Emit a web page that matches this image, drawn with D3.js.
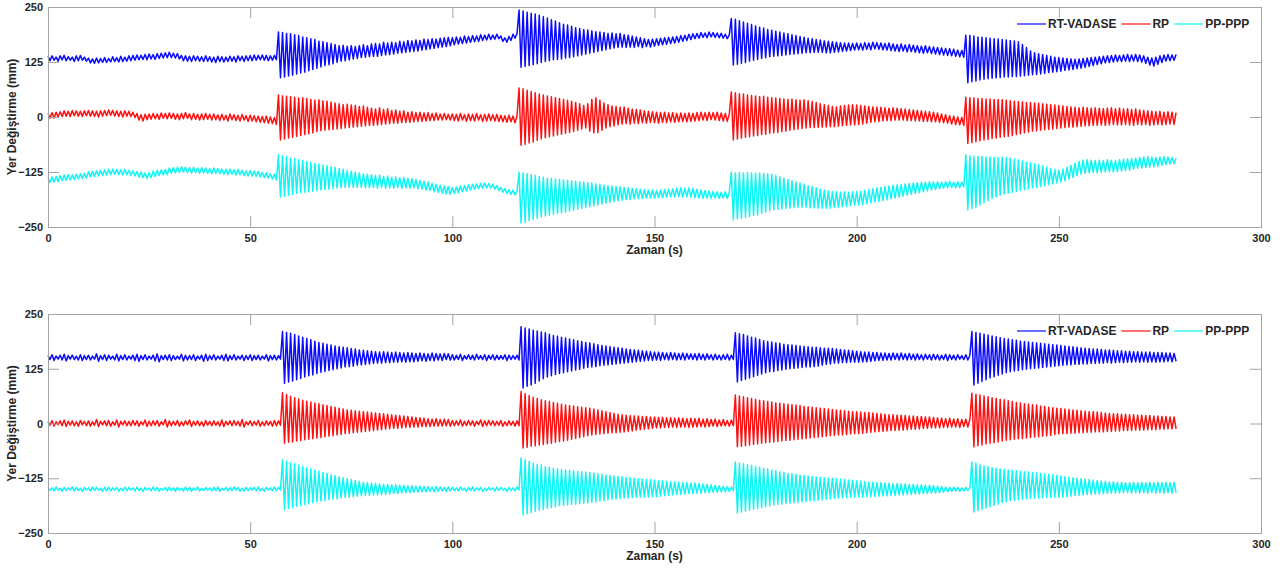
<html>
<head>
<meta charset="utf-8">
<title>Yer Değiştirme - Zaman</title>
<script src="https://d3js.org/d3.v7.min.js"></script>
<style>
body {
	margin: 0;
	background: #fff;
	font-family: "Liberation Sans", Arial, sans-serif;
}
</style>
</head>
<body>
<div id="container"></div>

<script>

// records are sampled every 0.5 s, values in mm
var timeStep = 0.5;
var xTicks = [0, 50, 100, 150, 200, 250, 300];
var yTicks = [-250, -125, 0, 125, 250];
var seriesNames = ["RT-VADASE", "RP", "PP-PPP"];

// upper panel
var rtvadaseTop = [
138,128,139,129,136,127,139,130,140,128,137,129,136,126,139,128,140,129,136,127,
134,123,132,122,134,123,133,124,135,124,133,125,137,126,135,125,138,126,136,127,
139,128,140,129,141,130,140,131,142,130,143,132,142,131,144,133,145,134,146,135,
147,135,145,134,144,132,140,128,139,127,138,126,139,128,138,127,137,126,139,127,
137,125,136,124,138,126,137,125,136,126,138,127,137,125,139,128,138,126,139,128,
140,128,141,129,140,130,141,129,140,128,139,129,140,130,193,89,192,91,190,93,
189,95,187,98,185,100,182,102,180,105,178,108,176,111,172,114,171,117,169,119,
167,121,165,124,162,127,163,128,161,130,162,132,160,133,162,135,164,136,162,137,
166,138,167,138,166,140,170,141,168,142,170,143,169,145,172,146,171,147,174,148,
173,149,175,150,174,152,177,153,176,155,178,156,177,158,179,159,180,160,181,162,
180,164,182,166,181,167,184,168,183,170,185,171,184,172,187,174,186,175,188,176,
186,177,188,178,184,172,180,170,183,174,188,179,190,243,113,241,115,238,117,236,
119,234,121,231,124,228,126,225,128,221,130,218,131,214,132,211,134,209,135,206,
137,203,139,201,141,199,143,198,145,196,147,194,149,193,151,192,153,190,155,191,
157,189,158,190,159,187,158,186,159,184,158,182,160,180,158,178,160,176,159,177,
161,178,163,179,164,180,165,181,167,182,168,183,170,185,172,186,174,188,176,189,
178,190,179,192,181,191,180,193,182,192,181,191,180,190,179,188,178,187,224,118,
222,120,219,122,216,124,213,127,210,129,207,131,204,133,202,135,199,137,197,138,
195,139,193,140,191,141,189,142,187,143,185,144,183,145,181,146,179,146,178,147,
176,147,175,147,173,146,172,146,171,147,170,148,169,149,168,150,168,151,167,152,
168,153,167,152,169,154,168,153,170,155,169,154,168,153,167,152,168,151,166,150,
165,149,166,150,164,148,165,149,163,147,162,146,161,145,162,146,160,144,159,143,
158,142,157,141,156,140,155,139,154,138,152,137,151,136,186,78,185,80,184,82,
182,84,181,86,180,87,179,88,178,89,177,90,176,91,175,91,174,92,173,92,
171,93,165,94,158,95,150,96,146,97,144,98,142,99,140,101,138,102,136,103,
135,104,134,106,133,107,132,108,131,110,132,111,133,113,134,115,135,117,136,119,
137,121,138,123,139,124,140,125,141,126,140,126,141,127,142,126,141,127,142,126,
141,125,139,122,136,118,134,116,136,120,139,124,141,127,142,128,141,129,142
];

var rpTop = [
8,-3,10,-2,11,0,12,1,14,2,13,1,15,3,14,2,13,1,14,3,
15,2,14,1,13,0,14,2,15,3,16,4,15,2,14,1,13,0,14,2,
13,1,11,-1,8,-7,5,-9,6,-6,7,-5,8,-4,7,-5,9,-3,8,-4,
9,-3,8,-5,7,-6,8,-4,10,-3,7,-6,8,-5,6,-7,7,-6,8,-5,
6,-7,7,-6,5,-8,6,-7,4,-9,7,-6,5,-8,4,-9,6,-7,3,-10,
4,-9,3,-11,2,-12,1,-13,2,-14,0,-15,-1,-17,50,-52,48,-50,47,-48,
46,-46,45,-44,43,-42,44,-40,42,-38,40,-36,38,-33,39,-31,37,-30,36,-29,
34,-28,32,-27,30,-26,28,-25,29,-24,27,-23,26,-22,24,-21,25,-20,22,-19,
20,-19,18,-18,21,-17,17,-16,19,-15,15,-14,16,-14,13,-13,14,-12,11,-12,
12,-11,10,-10,11,-10,9,-9,10,-8,8,-8,9,-7,7,-7,8,-6,6,-7,
7,-8,6,-9,8,-7,5,-10,7,-8,6,-9,8,-7,5,-10,6,-9,7,-8,
5,-9,6,-10,4,-11,3,-12,4,-11,2,-13,3,66,-64,64,-62,61,-59,58,
-57,55,-53,52,-50,50,-47,48,-45,46,-43,44,-41,42,-39,40,-37,38,-35,36,
-33,33,-30,30,-27,26,-25,30,-32,40,-36,44,-35,38,-30,32,-25,28,-22,25,
-20,24,-18,22,-16,23,-15,20,-16,18,-14,17,-15,16,-13,14,-14,13,-12,12,
-13,11,-14,10,-12,11,-13,9,-11,10,-12,8,-11,9,-10,8,-11,9,-10,8,
-9,10,-8,11,-7,10,-8,11,-6,10,-7,11,-8,9,-9,8,-10,7,57,-52,
55,-50,53,-48,52,-46,50,-45,49,-43,48,-42,46,-40,47,-39,45,-37,44,-36,
43,-35,42,-33,41,-32,40,-30,41,-29,39,-27,38,-26,39,-25,37,-24,35,-24,
33,-24,30,-23,28,-23,26,-22,24,-22,23,-21,25,-20,26,-19,27,-18,28,-18,
27,-17,26,-16,25,-14,24,-12,23,-11,22,-10,22,-9,21,-8,20,-8,21,-7,
20,-7,19,-7,18,-8,17,-8,16,-9,15,-9,14,-10,13,-10,12,-11,11,-11,
9,-12,7,-13,5,-14,3,-16,2,-17,0,-18,-1,-19,45,-60,44,-58,43,-56,
42,-54,42,-52,41,-51,41,-49,40,-48,40,-46,39,-45,38,-44,37,-42,36,-40,
35,-38,34,-36,33,-34,33,-32,32,-31,31,-30,30,-29,29,-28,28,-27,27,-26,
26,-25,25,-24,24,-23,23,-23,22,-22,21,-21,22,-20,21,-20,20,-19,21,-19,
20,-18,19,-19,20,-18,21,-17,19,-18,20,-18,18,-17,19,-18,17,-19,18,-17,
16,-18,15,-17,14,-19,13,-18,12,-17,13,-18,11,-17,12,-16,11,-17,10
];

var ppppTop = [
-137,-149,-136,-148,-135,-147,-133,-145,-132,-144,-131,-143,-132,-142,-130,-141,-129,-140,-128,-139,
-124,-136,-123,-135,-122,-134,-121,-133,-120,-132,-119,-131,-118,-130,-119,-131,-120,-132,-119,-131,
-121,-133,-122,-134,-124,-136,-125,-138,-127,-140,-126,-138,-123,-135,-121,-133,-120,-132,-119,-131,
-116,-128,-115,-127,-114,-126,-113,-125,-114,-126,-115,-127,-114,-126,-116,-128,-115,-127,-116,-128,
-117,-129,-116,-128,-117,-129,-118,-130,-119,-131,-118,-130,-120,-132,-119,-131,-121,-133,-122,-134,
-122,-134,-123,-135,-124,-136,-126,-138,-127,-139,-129,-141,-130,-143,-86,-182,-88,-180,-90,-178,
-93,-176,-95,-174,-97,-172,-99,-171,-101,-170,-103,-169,-105,-167,-107,-166,-109,-165,-111,-164,
-113,-163,-115,-162,-117,-161,-119,-160,-121,-160,-123,-160,-125,-160,-127,-160,-129,-161,-130,-161,
-131,-160,-133,-162,-132,-160,-135,-162,-134,-161,-137,-162,-136,-160,-138,-163,-137,-161,-139,-162,
-140,-161,-142,-163,-144,-164,-146,-166,-148,-167,-151,-170,-153,-171,-155,-173,-157,-175,-158,-176,
-160,-174,-159,-172,-157,-170,-156,-168,-154,-166,-153,-164,-152,-163,-151,-162,-150,-161,-151,-162,
-153,-164,-156,-167,-160,-171,-163,-174,-165,-176,-166,-177,-168,-125,-241,-127,-239,-129,-236,-131,
-233,-133,-230,-135,-227,-137,-225,-139,-223,-140,-221,-141,-219,-142,-218,-143,-216,-144,-214,-145,
-212,-146,-210,-147,-208,-148,-206,-149,-204,-150,-202,-152,-200,-153,-198,-155,-196,-156,-194,-157,
-192,-158,-190,-159,-189,-160,-188,-161,-187,-162,-186,-163,-185,-164,-185,-165,-184,-166,-184,-166,
-184,-167,-183,-166,-183,-165,-182,-164,-181,-163,-182,-162,-181,-161,-182,-162,-181,-161,-182,-162,
-183,-164,-184,-166,-185,-167,-184,-168,-185,-169,-184,-170,-185,-171,-184,-170,-185,-171,-125,-234,
-127,-232,-126,-230,-127,-228,-126,-226,-127,-224,-128,-222,-127,-219,-128,-216,-129,-213,-130,-211,
-133,-210,-136,-209,-139,-208,-142,-207,-145,-206,-148,-205,-150,-205,-153,-205,-156,-206,-158,-206,
-161,-207,-164,-207,-166,-207,-168,-207,-170,-206,-170,-205,-171,-204,-170,-203,-171,-202,-170,-200,
-170,-200,-169,-199,-167,-197,-165,-195,-163,-193,-161,-192,-160,-190,-158,-188,-157,-186,-155,-184,
-154,-182,-153,-180,-152,-178,-151,-176,-150,-174,-149,-172,-148,-170,-148,-168,-147,-166,-148,-165,
-147,-163,-148,-162,-147,-161,-146,-160,-148,-161,-147,-160,-148,-159,-86,-211,-88,-208,-89,-205,
-89,-200,-90,-195,-91,-190,-91,-185,-92,-181,-92,-178,-91,-175,-92,-173,-94,-171,-96,-169,
-98,-167,-100,-165,-102,-163,-104,-161,-106,-160,-108,-158,-111,-156,-114,-154,-117,-152,-120,-150,
-121,-148,-119,-145,-115,-141,-110,-137,-105,-133,-101,-130,-98,-128,-97,-127,-98,-126,-99,-127,
-98,-126,-99,-125,-97,-124,-98,-125,-99,-124,-97,-123,-96,-122,-95,-121,-94,-119,-93,-117,
-92,-116,-91,-115,-90,-114,-91,-113,-92,-112,-91,-110,-90,-108,-91,-107,-92,-106,-93
];

// lower panel
var rtvadaseBottom = [
155,146,157,144,154,147,156,145,158,143,155,147,156,146,154,145,157,144,155,146,
156,145,154,147,159,142,155,146,157,144,156,147,154,145,158,143,155,146,157,145,
154,147,156,144,158,142,155,146,157,145,154,147,156,143,159,141,155,146,156,145,
157,144,155,146,154,147,158,143,156,145,155,146,157,144,154,147,156,142,158,144,
155,146,157,145,154,147,156,144,158,143,155,146,157,145,154,147,156,144,155,146,
157,144,155,146,156,145,154,147,157,143,155,146,156,145,155,147,210,92,208,95,
206,97,203,100,200,103,197,106,194,109,191,111,188,114,185,117,183,119,181,121,
179,123,177,125,175,127,174,129,173,130,171,131,170,133,168,134,167,135,166,136,
165,137,164,138,163,138,164,139,163,139,162,140,163,140,162,141,161,140,162,141,
161,141,160,142,161,143,160,142,159,144,161,143,160,145,159,144,160,146,159,145,
157,145,156,146,158,144,155,147,157,146,156,145,158,147,155,146,157,144,156,147,
157,145,156,146,155,147,157,144,156,146,155,147,156,145,221,81,218,85,216,88,
213,92,211,97,209,102,207,106,204,109,201,112,199,114,197,116,195,118,193,120,
191,122,189,124,187,126,185,128,184,129,182,130,180,132,178,133,177,134,175,135,
174,136,173,137,172,138,170,139,169,140,168,141,167,142,166,143,165,144,164,144,
163,145,163,144,162,146,161,145,162,146,161,145,160,146,161,145,160,147,159,146,
159,145,160,146,158,145,159,147,157,145,158,146,156,145,157,146,158,145,156,146,
207,95,205,98,203,101,200,104,197,107,195,110,192,113,189,116,187,118,186,119,
184,121,183,122,181,124,180,125,179,126,178,127,177,128,176,129,175,129,174,130,
174,131,173,133,172,135,172,136,171,138,170,138,169,139,168,139,167,140,166,140,
165,140,164,141,163,141,163,142,162,143,162,144,161,144,161,145,160,145,161,146,
160,145,161,146,159,145,160,146,158,145,159,146,157,145,158,147,157,145,158,146,
157,145,156,146,158,144,157,146,156,145,157,147,155,146,157,145,156,210,88,208,
92,206,96,204,100,202,104,200,107,198,110,196,113,194,116,193,118,191,120,190,
121,188,123,187,124,186,125,185,126,184,127,183,128,182,129,181,130,180,131,179,
132,178,133,177,134,176,134,175,135,174,135,173,136,172,136,171,137,170,137,170,
138,169,138,168,139,168,138,167,139,166,140,166,139,165,140,165,140,164,141,164,
140,163,141,163,140,163,141,162,140,162,141,162,141,161,142,161,141,160,142
];

var rpBottom = [
5,-4,7,-6,4,-3,6,-5,8,-7,5,-4,6,-5,4,-6,7,-3,5,-5,
6,-6,4,-4,9,-7,5,-3,6,-5,7,-6,4,-4,8,-8,5,-3,6,-5,
5,-5,7,-4,6,-6,4,-3,8,-7,5,-5,6,-4,7,-6,4,-3,9,-8,
6,-5,5,-4,7,-6,4,-5,6,-3,8,-7,5,-4,6,-5,4,-6,7,-4,
5,-5,6,-4,4,-6,8,-7,5,-3,6,-5,7,-4,5,-6,9,-8,4,-3,
6,-5,5,-4,7,-6,4,-5,6,-4,5,-6,7,-5,6,-4,70,-45,66,-43,
62,-42,59,-40,56,-39,53,-37,51,-36,49,-35,47,-33,45,-32,43,-30,41,-29,
39,-28,37,-26,35,-25,33,-23,31,-22,30,-21,29,-20,28,-19,27,-18,26,-17,
25,-16,24,-15,23,-14,22,-13,21,-12,20,-11,19,-11,18,-10,17,-9,16,-9,
15,-8,14,-8,13,-7,12,-7,11,-7,10,-6,11,-6,9,-6,10,-5,9,-6,
7,-5,6,-4,8,-6,5,-5,7,-4,6,-6,5,-3,8,-7,6,-5,7,-4,
6,-5,5,-4,7,-6,4,-5,6,-4,5,-6,6,-5,73,-56,68,-54,64,-52,
60,-51,57,-49,54,-48,52,-46,50,-45,48,-43,46,-41,44,-40,42,-38,41,-36,
40,-34,38,-32,37,-30,36,-28,35,-26,33,-25,31,-24,29,-23,27,-22,25,-21,
23,-21,21,-20,20,-19,19,-18,18,-17,17,-15,17,-14,16,-13,16,-12,15,-11,
15,-10,14,-10,14,-9,13,-9,13,-8,12,-9,13,-8,12,-8,11,-9,12,-8,
11,-8,12,-7,10,-8,11,-7,9,-6,10,-7,8,-6,9,-5,7,-6,8,-5,
65,-53,63,-52,61,-51,59,-49,57,-48,55,-47,53,-45,52,-44,50,-43,49,-42,
47,-41,46,-40,45,-39,44,-38,43,-37,42,-36,41,-35,39,-34,38,-33,37,-32,
36,-31,35,-30,34,-29,33,-28,32,-27,31,-26,30,-26,29,-25,28,-24,27,-23,
27,-23,26,-22,25,-21,25,-20,24,-19,23,-18,22,-18,21,-17,20,-16,20,-16,
19,-15,19,-15,18,-14,17,-13,17,-13,16,-12,16,-11,15,-11,15,-10,14,-10,
13,-10,12,-9,11,-9,12,-8,10,-8,11,-9,9,-7,10,-8,9,69,-53,67,
-51,65,-49,63,-47,61,-45,59,-44,57,-42,55,-40,54,-38,52,-37,50,-36,48,
-35,47,-34,45,-33,44,-32,43,-31,42,-30,40,-29,39,-28,37,-27,36,-25,35,
-24,34,-23,33,-23,32,-22,31,-22,30,-21,29,-21,28,-20,27,-20,27,-19,26,
-19,25,-19,24,-18,23,-18,22,-17,22,-17,21,-16,21,-16,20,-16,20,-15,19,
-15,19,-15,18,-14,18,-14,17,-14,17,-13,16,-13,16,-12,15,-12,15,-12
];

var ppppBottom = [
-146,-153,-147,-154,-145,-152,-148,-155,-146,-153,-147,-152,-145,-154,-146,-153,-148,-155,-146,-152,
-147,-154,-145,-153,-146,-152,-148,-155,-146,-153,-145,-154,-147,-152,-146,-155,-148,-153,-145,-154,
-146,-152,-147,-154,-145,-153,-148,-155,-146,-152,-147,-154,-145,-153,-146,-155,-148,-152,-146,-154,
-145,-153,-147,-155,-146,-152,-148,-154,-145,-153,-146,-155,-147,-152,-145,-154,-148,-153,-146,-152,
-147,-154,-146,-153,-145,-155,-148,-152,-146,-154,-147,-153,-145,-152,-146,-155,-148,-154,-146,-153,
-147,-152,-146,-154,-145,-153,-148,-155,-146,-152,-147,-154,-145,-153,-146,-152,-83,-197,-86,-194,
-89,-191,-92,-189,-95,-187,-98,-185,-101,-183,-104,-181,-106,-179,-109,-177,-112,-176,-114,-174,
-117,-173,-119,-172,-121,-170,-124,-169,-126,-168,-128,-167,-130,-166,-132,-165,-134,-164,-135,-164,
-136,-163,-137,-163,-138,-162,-139,-162,-139,-161,-140,-160,-140,-160,-141,-159,-141,-158,-142,-158,
-142,-157,-143,-157,-143,-156,-144,-156,-144,-155,-145,-156,-144,-155,-145,-154,-146,-155,-145,-154,
-146,-153,-147,-154,-145,-152,-148,-155,-146,-153,-145,-154,-147,-152,-146,-155,-148,-153,-146,-152,
-147,-154,-145,-153,-146,-152,-148,-155,-146,-153,-147,-154,-145,-152,-79,-209,-83,-206,-87,-203,
-91,-200,-93,-198,-95,-196,-98,-194,-100,-192,-102,-190,-104,-188,-105,-187,-106,-186,-107,-185,
-108,-184,-109,-183,-110,-182,-111,-181,-112,-180,-113,-179,-115,-177,-116,-176,-118,-174,-119,-173,
-120,-172,-121,-171,-122,-170,-123,-170,-124,-169,-125,-169,-126,-168,-127,-168,-128,-168,-129,-167,
-129,-167,-130,-166,-131,-165,-132,-164,-133,-163,-133,-162,-134,-162,-135,-161,-135,-160,-136,-160,
-136,-159,-137,-159,-138,-158,-139,-158,-140,-157,-141,-157,-142,-156,-143,-156,-144,-155,-145,-154,
-88,-204,-90,-202,-92,-200,-94,-198,-96,-196,-98,-194,-100,-192,-102,-190,-104,-188,-106,-186,
-108,-185,-110,-184,-112,-183,-114,-182,-115,-181,-116,-180,-118,-179,-119,-178,-120,-177,-121,-176,
-122,-175,-123,-174,-124,-173,-125,-172,-125,-171,-126,-170,-127,-170,-128,-169,-129,-169,-130,-168,
-131,-168,-132,-168,-133,-167,-134,-167,-134,-166,-135,-166,-135,-165,-136,-165,-136,-164,-137,-164,
-137,-163,-138,-163,-138,-162,-139,-162,-139,-161,-140,-161,-140,-160,-141,-160,-141,-159,-142,-159,
-143,-158,-144,-157,-145,-156,-146,-155,-145,-154,-146,-155,-147,-154,-146,-153,-147,-88,-202,-91,
-199,-94,-196,-97,-193,-99,-190,-101,-187,-103,-184,-104,-181,-105,-178,-106,-176,-107,-175,-108,
-174,-109,-173,-110,-172,-111,-171,-112,-171,-113,-170,-114,-170,-115,-169,-116,-169,-117,-168,-118,
-168,-120,-168,-121,-167,-123,-166,-124,-165,-125,-164,-126,-163,-127,-162,-128,-162,-129,-161,-130,
-161,-131,-160,-132,-160,-133,-159,-133,-159,-134,-159,-134,-158,-135,-158,-135,-159,-134,-158,-135,
-159,-134,-158,-135,-159,-134,-158,-135,-159,-134,-158,-135,-159,-134,-158,-135,-159,-134,-158
];

var width = 1285, height = 569;
var lineColors = ["#0a0aff", "#ff1010", "#10f5f5"];
var boxColor = "#a3a3a3", textColor = "#262626";

var svg = d3.select('#container').append('svg')
	.attr('width', width).attr('height', height);

var panels = [
	{ top: 7, bottom: 227, series: [rtvadaseTop, rpTop, ppppTop] },
	{ top: 314, bottom: 533, series: [rtvadaseBottom, rpBottom, ppppBottom] }
];

panels.forEach(drawPanel);

function drawPanel(p) {

	var left = 48, right = 1261;
	var x = d3.scaleLinear().domain([0, 300]).range([left, right]);
	var y = d3.scaleLinear().domain([-250, 250]).range([p.bottom, p.top]);

	var g = svg.append('g');

	// the three records
	var line = d3.line()
		.x(function(d, i) { return x(i * timeStep); })
		.y(function(d) { return y(d); });

	p.series.forEach(function(s, k) {
		g.append('path')
			.datum(s)
			.attr('d', line)
			.attr('fill', 'none')
			.attr('stroke', lineColors[k])
			.attr('stroke-width', 1.5)
			.attr('stroke-linejoin', 'round');
	});

	// ticks point inwards on all four sides, labels only bottom / left
	var bottomAxis = g.append('g')
		.attr('transform', 'translate(0,' + p.bottom + ')')
		.call(d3.axisBottom(x).tickValues(xTicks).tickSizeInner(-11).tickSizeOuter(0).tickPadding(7));
	var topAxis = g.append('g')
		.attr('transform', 'translate(0,' + p.top + ')')
		.call(d3.axisTop(x).tickValues(xTicks).tickSizeInner(-11).tickSizeOuter(0).tickFormat(''));
	var leftAxis = g.append('g')
		.attr('transform', 'translate(' + left + ',0)')
		.call(d3.axisLeft(y).tickValues(yTicks).tickSizeInner(-11).tickSizeOuter(0).tickPadding(5));
	var rightAxis = g.append('g')
		.attr('transform', 'translate(' + right + ',0)')
		.call(d3.axisRight(y).tickValues(yTicks).tickSizeInner(-11).tickSizeOuter(0).tickFormat(''));

	[bottomAxis, topAxis, leftAxis, rightAxis].forEach(function(a) {
		a.select('.domain').remove();
		a.selectAll('.tick line').attr('stroke', boxColor);
		a.selectAll('.tick text')
			.attr('fill', textColor)
			.style('font-family', '"Liberation Sans", Arial, sans-serif')
			.style('font-size', '11px')
			.style('font-weight', 'bold');
	});

	// box
	g.append('rect')
		.attr('x', left + 0.5).attr('y', p.top + 0.5)
		.attr('width', right - left).attr('height', p.bottom - p.top)
		.attr('fill', 'none').attr('stroke', boxColor).attr('stroke-width', 1);

	// axis titles
	g.append('text')
		.attr('x', (left + right) / 2).attr('y', p.bottom + 27)
		.attr('text-anchor', 'middle')
		.attr('fill', textColor)
		.style('font-size', '12px').style('font-weight', 'bold')
		.text('Zaman (s)');

	g.append('text')
		.attr('transform', 'translate(16,' + ((p.top + p.bottom) / 2) + ') rotate(-90)')
		.attr('text-anchor', 'middle')
		.attr('fill', textColor)
		.style('font-size', '12px').style('font-weight', 'bold')
		.text('Yer Değiştirme (mm)');

	// legend, one row in the upper right corner
	var lx = 1017, ly = p.top + 17;
	seriesNames.forEach(function(name, k) {
		g.append('line')
			.attr('x1', lx).attr('x2', lx + 29)
			.attr('y1', ly).attr('y2', ly)
			.attr('stroke', lineColors[k]).attr('stroke-width', 1.2);
		var t = g.append('text')
			.attr('x', lx + 31).attr('y', ly + 4)
			.attr('fill', textColor)
			.style('font-size', '12px').style('font-weight', 'bold')
			.text(name);
		lx = lx + 31 + t.node().getComputedTextLength() + 5;
	});
}

</script>
</body>
</html>
